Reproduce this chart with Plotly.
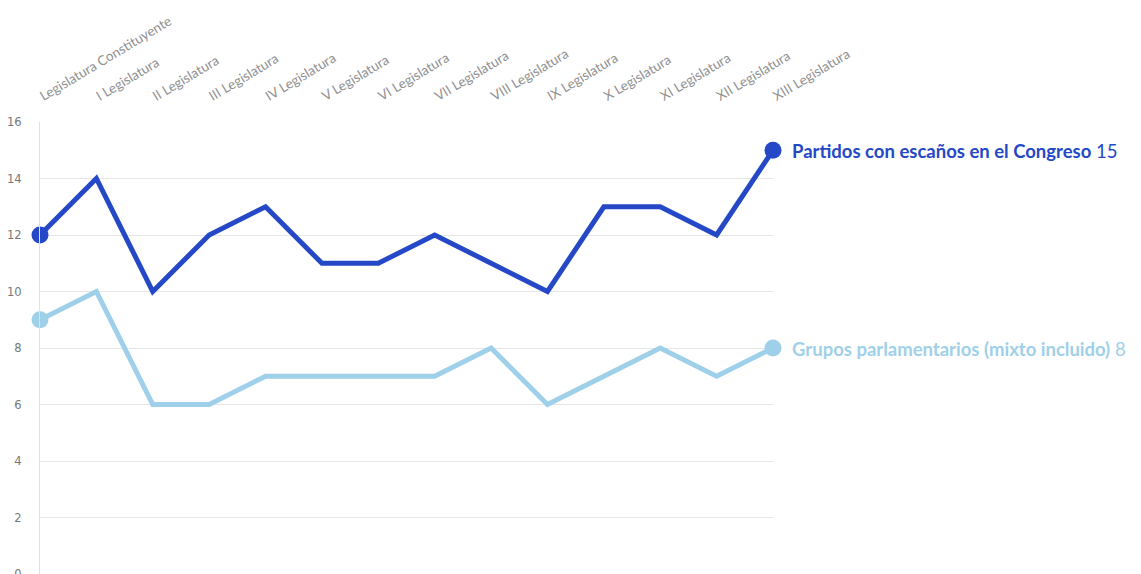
import plotly.graph_objects as go

categories = ["Legislatura Constituyente", "I Legislatura", "II Legislatura", "III Legislatura",
              "IV Legislatura", "V Legislatura", "VI Legislatura", "VII Legislatura",
              "VIII Legislatura", "IX Legislatura", "X Legislatura", "XI Legislatura",
              "XII Legislatura", "XIII Legislatura"]
partidos = [12, 14, 10, 12, 13, 11, 11, 12, 11, 10, 13, 13, 12, 15]
grupos = [9, 10, 6, 6, 7, 7, 7, 7, 8, 6, 7, 8, 7, 8]
y_ticks = [0, 2, 4, 6, 8, 10, 12, 14, 16]

series = [
    ("Partidos con escaños en el Congreso", partidos, "#2448c6"),
    ("Grupos parlamentarios (mixto incluido)", grupos, "#9fd0ea"),
]

fig = go.Figure()
for name, vals, col in series:
    fig.add_trace(go.Scatter(x=categories, y=vals, mode="lines", name=name,
                             line=dict(color=col, width=5), hoverinfo="skip",
                             cliponaxis=False))
    fig.add_trace(go.Scatter(x=[categories[0], categories[-1]], y=[vals[0], vals[-1]],
                             mode="markers", marker=dict(color=col, size=17),
                             showlegend=False, hoverinfo="skip", cliponaxis=False))
    fig.add_annotation(x=categories[-1], y=vals[-1], xref="x", yref="y",
                       text=f"<b>{name}</b> {vals[-1]}", showarrow=False,
                       xanchor="left", yanchor="middle", xshift=17, yshift=-1,
                       font=dict(family="Lato, sans-serif", size=18.5, color=col))

fig.update_layout(
    width=1141, height=574,
    margin=dict(l=32, r=376, t=114, b=8),
    plot_bgcolor="white", paper_bgcolor="white",
    showlegend=False,
    xaxis=dict(type="category", side="top", range=[0, len(categories) - 1],
               tickangle=-31, showgrid=False, zeroline=False, showline=False,
               ticks="", ticklabelstandoff=16, automargin=False,
               tickfont=dict(family="Lato, sans-serif", size=13.5, color="#8f8f8f")),
    yaxis=dict(range=[0, 16], tickvals=y_ticks, showgrid=True, gridcolor="#e6e6e6",
               gridwidth=1, zeroline=False, showline=True, linecolor="#e0e0e0",
               ticks="", ticklabelstandoff=15, automargin=False,
               tickfont=dict(family="DejaVu Sans, sans-serif", size=11.5, color="#777777")),
)

fig.write_html("out.html")
